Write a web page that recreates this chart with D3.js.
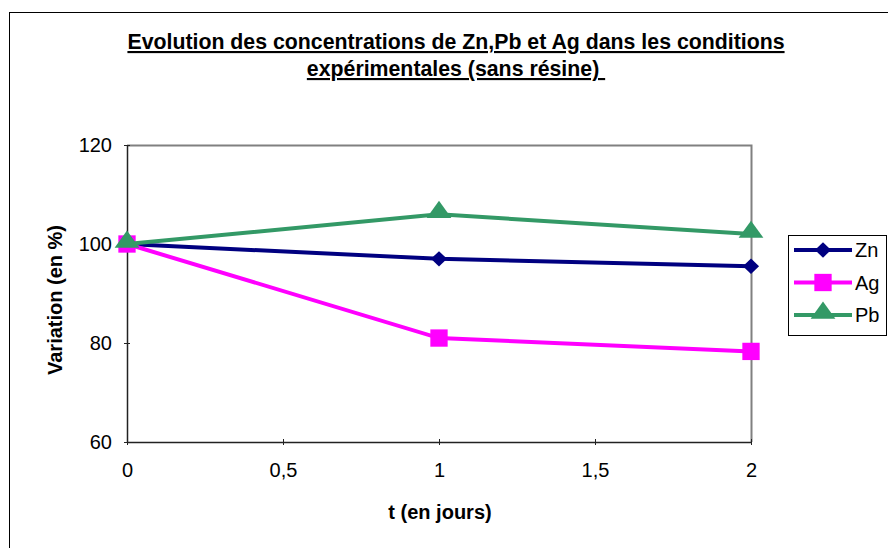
<!DOCTYPE html>
<html>
<head>
<meta charset="utf-8">
<script src="https://cdn.jsdelivr.net/npm/d3@7"></script>
<style>
  body { margin: 0; background: #fff; }
  svg { display: block; font-family: "Liberation Sans", Arial, sans-serif; }
</style>
</head>
<body>
<div class="chart"></div>
<script>
// data
const days = [0, 1, 2];
const zn = [100, 97, 95.5];
const ag = [100, 81, 78.3];
const pb = [100, 106, 102];
const seriesNames = ['Zn', 'Ag', 'Pb'];
const xTicks = [0, 0.5, 1, 1.5, 2];
const yTicks = [60, 80, 100, 120];

const w = 888;
const h = 548;

const colors = { Zn: '#000080', Ag: '#ff00ff', Pb: '#339966' };
const values = { Zn: zn, Ag: ag, Pb: pb };

let svg = d3.select('.chart').append('svg')
  .attr('width', w)
  .attr('height', h);

// outer frame
svg.append('rect')
  .attr('x', 9.5).attr('y', 12.5)
  .attr('width', w + 10).attr('height', h + 10)
  .attr('fill', 'none').attr('stroke', '#000').attr('stroke-width', 1);

// title
const title = svg.append('text')
  .attr('text-anchor', 'middle')
  .attr('font-weight', 'bold')
  .attr('font-size', 21.3)
  .attr('text-decoration', 'underline');
title.append('tspan').attr('x', 456).attr('y', 49)
  .text('Evolution des concentrations de Zn,Pb et Ag dans les conditions');
title.append('tspan').attr('x', 456).attr('y', 76)
  .text('expérimentales (sans résine)\u00a0');

// scales
const x0 = 127, x1 = 751, y0 = 442, y1 = 145;

let xScale = d3.scaleLinear().domain([0, 2]).range([x0, x1]);
let yScale = d3.scaleLinear().domain([60, 120]).range([y0, y1]);

// plot frame (top & right grey)
svg.append('path')
  .attr('d', `M${x0},${y1 + 0.5}H${x1 + 0.5}V${y0}`)
  .attr('fill', 'none').attr('stroke', '#808080').attr('stroke-width', 2);

// axes
let yAxisGen = d3.axisLeft(yScale).tickValues(yTicks).tickSize(6).tickSizeOuter(0).tickPadding(9);
let xAxisGen = d3.axisBottom(xScale).tickValues(xTicks).tickSize(5).tickSizeOuter(0).tickPadding(16)
  .tickFormat(d => String(d).replace('.', ','));

let yAxis = svg.append('g')
  .attr('transform', `translate(${x0}, 0)`)
  .call(yAxisGen);
yAxis.selectAll('.tick line').attr('transform', 'translate(3,0)');

let xAxis = svg.append('g')
  .attr('transform', `translate(0, ${y0})`)
  .call(xAxisGen);
xAxis.selectAll('.tick line').attr('transform', 'translate(0,-3)').attr('y2', 6);

svg.selectAll('.domain').attr('stroke', '#222').attr('stroke-width', 1.5);
svg.selectAll('.tick line').attr('stroke', '#222');
yAxis.attr('font-size', 20).attr('font-family', '"Liberation Sans", Arial, sans-serif');
xAxis.attr('font-size', 20).attr('font-family', '"Liberation Sans", Arial, sans-serif');
svg.selectAll('.tick text').attr('fill', '#000');

// axis labels
svg.append('text')
  .attr('x', 440).attr('y', 519)
  .attr('text-anchor', 'middle')
  .attr('font-weight', 'bold').attr('font-size', 20)
  .text('t (en jours)');

svg.append('text')
  .attr('transform', 'translate(62, 300) rotate(-90)')
  .attr('text-anchor', 'middle')
  .attr('font-weight', 'bold').attr('font-size', 20)
  .text('Variation (en %)');

// markers
const symbolFor = {
  Zn: d3.symbol().type(d3.symbolDiamond2).size(150),
  Ag: d3.symbol().type(d3.symbolSquare).size(300),
  Pb: d3.symbol().type(d3.symbolTriangle).size(170)
};

const drawMarker = (g, name, cx, cy) => {
  let p = g.append('path')
    .attr('d', symbolFor[name]())
    .attr('fill', colors[name])
    .attr('transform', `translate(${cx}, ${cy})`);
  if (name === 'Pb') p.attr('transform', `translate(${cx}, ${cy - 2}) scale(1.25,1)`);
  if (name === 'Zn') p.attr('transform', `translate(${cx}, ${cy}) scale(1.05,1)`);
};

let line = d3.line()
  .x((d, i) => xScale(days[i]))
  .y(d => yScale(d));

// draw order: Zn, Ag, Pb (Pb on top)
seriesNames.forEach(name => {
  let g = svg.append('g');
  g.append('path')
    .attr('d', line(values[name]))
    .attr('fill', 'none')
    .attr('stroke', colors[name])
    .attr('stroke-width', 4);
  values[name].forEach((v, i) => drawMarker(g, name, xScale(days[i]), yScale(v)));
});

// legend
let legend = svg.append('g');
legend.append('rect')
  .attr('x', 788.5).attr('y', 235.5)
  .attr('width', 98).attr('height', 100)
  .attr('fill', '#fff').attr('stroke', '#000').attr('stroke-width', 1);

seriesNames.forEach((name, i) => {
  let ly = 250 + i * 32.5;
  legend.append('line')
    .attr('x1', 794).attr('x2', 852)
    .attr('y1', ly).attr('y2', ly)
    .attr('stroke', colors[name]).attr('stroke-width', 4);
  drawMarker(legend, name, 823, ly);
  legend.append('text')
    .attr('x', 855).attr('y', ly + 7)
    .attr('font-size', 20)
    .text(name);
});
</script>
</body>
</html>
